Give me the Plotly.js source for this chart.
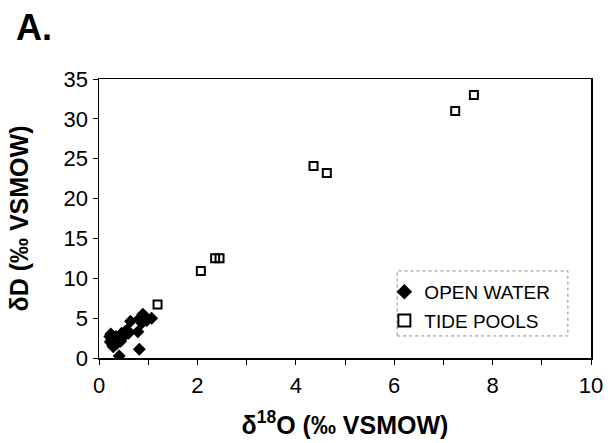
<!DOCTYPE html>
<html>
<head>
<meta charset="utf-8">
<script src="https://cdn.plot.ly/plotly-3.0.1.min.js"></script>
<style>html,body{margin:0;padding:0;background:#fff;}#chart{width:608px;height:443px;}</style>
</head>
<body>
<div id="chart"></div>
<script>
// Open water samples (δ18O, δD)
const openWaterX = [0.22, 0.23, 0.28, 0.30, 0.36, 0.39, 0.46, 0.50, 0.53, 0.57, 0.44, 0.34, 0.60, 0.64, 0.79, 0.82, 0.41, 0.83, 0.89, 0.93, 0.97, 1.07, 0.87, 0.24, 0.29, 0.26, 0.48];
const openWaterY = [2.7, 2.0, 1.6, 2.2, 1.8, 2.5, 3.1, 2.7, 3.3, 3.5, 2.1, 2.7, 3.1, 4.6, 3.3, 1.1, 0.25, 5.0, 5.5, 5.2, 4.7, 5.0, 4.4, 3.0, 1.4, 2.3, 2.9];
// Tide pool samples (δ18O, δD)
const tidePoolX = [1.19, 2.07, 2.36, 2.45, 4.36, 4.63, 7.24, 7.62];
const tidePoolY = [6.7, 10.9, 12.5, 12.5, 24.1, 23.2, 31.0, 33.0];

const xTickVals = [0, 1, 2, 3, 4, 5, 6, 7, 8, 9, 10];
const xTickText = ['0', ' ', '2', ' ', '4', ' ', '6', ' ', '8', ' ', '10'];
const yTickVals = [0, 5, 10, 15, 20, 25, 30, 35];
const yTickText = ['0', '5', '10', '15', '20', '25', '30', '35'];

const FONT = 'Liberation Sans, Arial, sans-serif';

const traces = [
  {
    x: openWaterX, y: openWaterY, type: 'scatter', mode: 'markers', name: 'OPEN WATER',
    legendgroup: 'a',
    marker: {symbol: 'diamond', size: 10, color: '#000', line: {width: 0}}
  },
  {
    x: tidePoolX, y: tidePoolY, type: 'scatter', mode: 'markers', name: 'TIDE POOLS',
    legendgroup: 'b',
    marker: {symbol: 'square-open', size: 8, color: '#000', line: {width: 2}}
  }
];

const layout = {
  width: 608, height: 443,
  margin: {l: 99, r: 17, t: 79, b: 85},
  paper_bgcolor: '#fff', plot_bgcolor: '#fff',
  font: {family: FONT, color: '#000', size: 20},
  showlegend: true,
  xaxis: {
    range: [0, 10], tickvals: xTickVals, ticktext: xTickText,
    ticks: 'outside', ticklen: 5, tickwidth: 1, tickcolor: '#000',
    showline: true, linecolor: '#000', linewidth: 1.5, mirror: true,
    showgrid: false, zeroline: false,
    tickfont: {size: 22, family: FONT},
    ticklabelstandoff: 2,
    title: {text: '<b>δ<sup>18</sup>O (‰ VSMOW)</b>', font: {size: 25, family: FONT}, standoff: 19}
  },
  yaxis: {
    range: [0, 35], tickvals: yTickVals, ticktext: yTickText,
    ticks: 'outside', ticklen: 5, tickwidth: 1, tickcolor: '#000',
    showline: true, linecolor: '#000', linewidth: 1.5, mirror: true,
    showgrid: false, zeroline: false,
    tickfont: {size: 22, family: FONT},
    title: {text: '<b>δD (‰ VSMOW)</b>', font: {size: 25, family: FONT}, standoff: 28}
  },
  legend: {
    x: 0.58, y: 0.305, xanchor: 'left', yanchor: 'top',
    bgcolor: 'rgba(0,0,0,0)', borderwidth: 0,
    font: {size: 19, family: FONT}, itemsizing: 'constant', itemwidth: 30,
    tracegroupgap: 1
  },
  shapes: [{
    type: 'rect', xref: 'paper', yref: 'paper',
    x0: 0.606, x1: 0.953, y0: 0.079, y1: 0.312,
    line: {color: '#888', width: 1, dash: 'dot'}
  }],
  annotations: [{
    text: '<b>A.</b>', xref: 'paper', yref: 'paper', x: -0.172, y: 1.183,
    xanchor: 'left', yanchor: 'middle', showarrow: false,
    font: {size: 36, family: FONT}
  }]
};

Plotly.newPlot('chart', traces, layout, {displayModeBar: false, staticPlot: true});
</script>
</body>
</html>
